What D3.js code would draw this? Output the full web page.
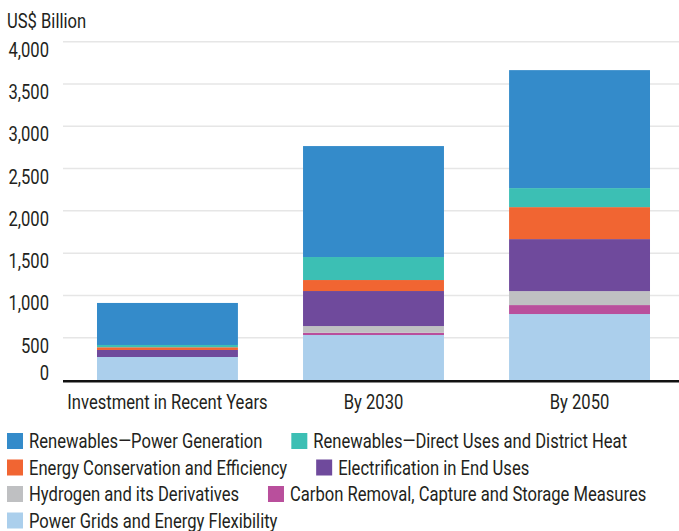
<!DOCTYPE html>
<html>
<head>
<meta charset="utf-8">
<script src="https://cdn.jsdelivr.net/npm/d3@7"></script>
<style>
  html, body { margin: 0; padding: 0; background: #ffffff; }
  svg { display: block; }
  text { font-family: Roboto, "Noto Sans", sans-serif; font-size: 20px; fill: #231f20; }
</style>
</head>
<body>
<svg id="chart" width="679" height="531"></svg>
<script>
// Investment categories along the x axis
const categories = ["Investment in Recent Years", "By 2030", "By 2050"];

// Stack series, bottom to top (US$ billion)
const seriesNames = [
  "Power Grids and Energy Flexibility",
  "Carbon Removal, Capture and Storage Measures",
  "Hydrogen and its Derivatives",
  "Electrification in End Uses",
  "Energy Conservation and Efficiency",
  "Renewables\u2014Direct Uses and District Heat",
  "Renewables\u2014Power Generation"
];
const powerGrids      = [272, 532, 780];
const carbonRemoval   = [0, 27, 106];
const hydrogen        = [0, 79, 165];
const electrification = [83, 414, 615];
const efficiency      = [32, 130, 378];
const renewablesHeat  = [27, 272, 225];
const renewablesPower = [497, 1312, 1395];

const seriesColors = ["#abcfec", "#b94f9c", "#bfc0c2", "#6f4a9c", "#f16532", "#3cbfb4", "#348bca"];

// Legend reading order
const legendOrder = [
  "Renewables\u2014Power Generation",
  "Renewables\u2014Direct Uses and District Heat",
  "Energy Conservation and Efficiency",
  "Electrification in End Uses",
  "Hydrogen and its Derivatives",
  "Carbon Removal, Capture and Storage Measures",
  "Power Grids and Energy Flexibility"
];

const yTicks = [0, 500, 1000, 1500, 2000, 2500, 3000, 3500, 4000];
const yTitle = "US$ Billion";

// Build rows for d3.stack from the series arrays
const seriesValues = [powerGrids, carbonRemoval, hydrogen, electrification, efficiency, renewablesHeat, renewablesPower];
const rows = categories.map((c, i) => {
  const r = { category: c };
  seriesNames.forEach((n, k) => { r[n] = seriesValues[k][i]; });
  return r;
});
const stacked = d3.stack().keys(seriesNames)(rows);
const color = d3.scaleOrdinal().domain(seriesNames).range(seriesColors);

const svg = d3.select("#chart");

// Condensed lettering: glyphs squeezed horizontally around their anchor point
const squeeze = 0.83;
function label(parent, px, py, str, anchor) {
  const g = parent.append("g").attr("transform", `translate(${px},${py}) scale(${squeeze},1)`);
  const t = g.append("text")
    .attr("dy", "0.35em")
    .attr("text-anchor", anchor || "start")
    .text(str);
  return t;
}

const x = d3.scaleBand()
  .domain(categories)
  .range([63, 684])
  .paddingInner(0.316)
  .paddingOuter(0.165);

const y = d3.scaleLinear().domain([0, 4000]).range([380, 41.7]);

// Gridlines
svg.append("g")
  .selectAll("line")
  .data(yTicks.filter(d => d > 0))
  .join("line")
  .attr("x1", 63).attr("x2", 679)
  .attr("y1", d => y(d)).attr("y2", d => y(d))
  .attr("stroke", "#e6e6e6").attr("stroke-width", 1.5);

// Y tick labels
const yLab = svg.append("g");
yTicks.forEach(d => {
  label(yLab, 49, d === 0 ? y(d) - 7 : y(d) + 8, d3.format(",")(d), "end");
});

// Y axis title
label(svg, 7, 21, yTitle, "start");

// Stacked bars
svg.append("g")
  .selectAll("g")
  .data(stacked)
  .join("g")
  .attr("fill", d => color(d.key))
  .selectAll("rect")
  .data(d => d)
  .join("rect")
  .attr("x", d => x(d.data.category))
  .attr("width", x.bandwidth())
  .attr("y", d => y(d[1]))
  .attr("height", d => y(d[0]) - y(d[1]));

// Baseline
svg.append("line")
  .attr("x1", 63).attr("x2", 679)
  .attr("y1", y(0) + 1.2).attr("y2", y(0) + 1.2)
  .attr("stroke", "#111").attr("stroke-width", 2.5);

// X axis labels, placed at the band centres
const xLab = svg.append("g");
categories.forEach(c => {
  label(xLab, x(c) + x.bandwidth() / 2, y(0) + 22, c, "middle");
});

// Legend: items flow left to right and wrap
const legend = svg.append("g");
const maxX = 672;
let lx = 7, ly = 441;
const rowH = 26.5, sw = 16, gapText = 6, gapItem = 29;
legendOrder.forEach(name => {
  const item = legend.append("g");
  item.append("rect").attr("width", sw).attr("height", sw).attr("y", -8).attr("fill", color(name));
  const t = label(item, sw + gapText, 0, name, "start");
  const w = sw + gapText + squeeze * t.node().getComputedTextLength();
  if (lx > 7 && lx + w > maxX) { lx = 7; ly += rowH; }
  item.attr("transform", `translate(${lx},${ly})`);
  lx += w + gapItem;
});
</script>
</body>
</html>
